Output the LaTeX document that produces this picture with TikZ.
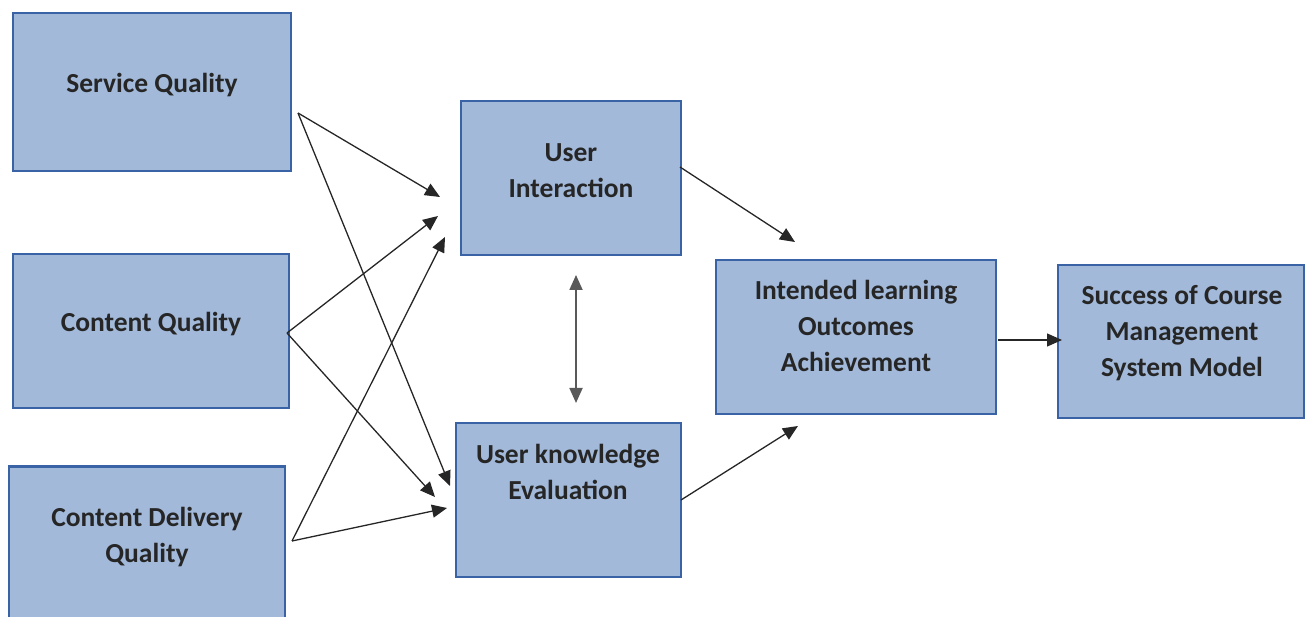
\documentclass[tikz,border=0pt]{standalone}
\usepackage{fontspec}
\setmainfont{Carlito}
\usetikzlibrary{arrows.meta,positioning}
\usepackage{xcolor}
\definecolor{boxfill}{HTML}{A2B9DA}
\definecolor{boxline}{HTML}{3A63A6}
\definecolor{boxtext}{HTML}{262626}

\begin{document}
\begin{tikzpicture}[x=1pt,y=-1pt]
      \tikzstyle{factor} = [rectangle, draw=boxline, line width=2.6pt, fill=boxfill, inner sep=0pt]
      \tikzstyle{caption} = [text=boxtext, align=center, font=\fontsize{27.5}{36}\selectfont\bfseries]
      \tikzstyle{link} = [-{Triangle[length=15pt,width=13pt]}, line width=1.3pt, black!85]

      \useasboundingbox (0,0) rectangle (1307,617);

      \node[factor, minimum width=278pt, minimum height=158pt] (service) at (152,92) {};
      \node[factor, minimum width=276pt, minimum height=154pt] (content) at (151,331) {};
      \node[factor, minimum width=276pt, minimum height=163pt] (delivery) at (147,548) {};
      \node[factor, minimum width=220pt, minimum height=154pt] (interaction) at (571,178) {};
      \node[factor, minimum width=225pt, minimum height=154pt] (knowledge) at (568.5,500) {};
      \node[factor, minimum width=280pt, minimum height=154pt] (outcomes) at (856,337) {};
      \node[factor, minimum width=246pt, minimum height=153pt] (success) at (1181,341.5) {};

      \node[caption] (serviceText) at (152,85) {Service Quality};
      \node[caption] (contentText) at (151,324) {Content Quality};
      \node[caption] (deliveryText) at (147,537) {Content Delivery\\Quality};
      \node[caption] (interactionText) at (571,171) {User\\Interaction};
      \node[caption] (knowledgeText) at (568,471.5) {User knowledge\\Evaluation};
      \node[caption] (outcomesText) at (856,325.5) {Intended learning\\Outcomes\\Achievement};
      \node[caption] (successText) at (1182,333.5) {Success of Course\\Management\\System Model};

      % free ends of the connectors
      \coordinate (serviceOut) at (298,113);
      \coordinate (contentOut) at (287,333);
      \coordinate (deliveryOut) at (292,541);
      \coordinate (interactionIn1) at (440,197);
      \coordinate (interactionIn2) at (438,216);
      \coordinate (interactionIn3) at (445,237);
      \coordinate (knowledgeIn1) at (450,486);
      \coordinate (knowledgeIn2) at (435,497);
      \coordinate (knowledgeIn3) at (447,508);
      \coordinate (interactionOut) at (680,167);
      \coordinate (knowledgeOut) at (681,500);
      \coordinate (outcomesIn1) at (795,242);
      \coordinate (outcomesIn2) at (798,426);
      \coordinate (outcomesOut) at (998,340);
      \coordinate (successIn) at (1062,340);
      \coordinate (mutualTop) at (576,275);
      \coordinate (mutualBottom) at (576,403);

      \draw[link] (serviceOut) -- (interactionIn1);
      \draw[link] (serviceOut) -- (knowledgeIn1);
      \draw[link] (contentOut) -- (interactionIn2);
      \draw[link] (contentOut) -- (knowledgeIn2);
      \draw[link] (deliveryOut) -- (interactionIn3);
      \draw[link] (deliveryOut) -- (knowledgeIn3);
      \draw[link] (interactionOut) -- (outcomesIn1);
      \draw[link] (knowledgeOut) -- (outcomesIn2);
      \draw[link] (outcomesOut) -- (successIn);
      \draw[link, {Triangle[length=15pt,width=13pt]}-{Triangle[length=15pt,width=13pt]}, line width=1.8pt, black!65] (mutualTop) -- (mutualBottom);
    \end{tikzpicture}
\end{document}
